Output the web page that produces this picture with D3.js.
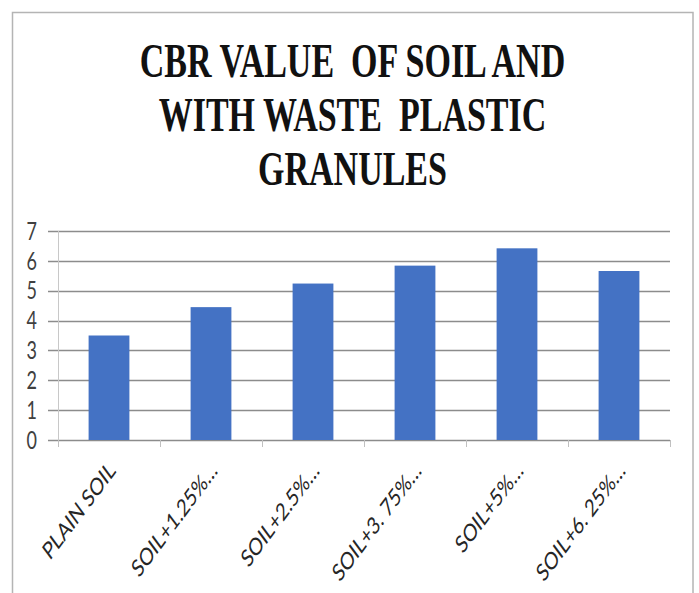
<!DOCTYPE html>
<html><head><meta charset="utf-8">
<script src="https://cdn.jsdelivr.net/npm/d3@7"></script>
<style>body{margin:0;background:#fff}svg{display:block}</style>
</head><body>
<script>
const titleLines = ["CBR VALUE  OF SOIL AND", "WITH WASTE  PLASTIC", "GRANULES"];
const categories = ["PLAIN SOIL", "SOIL+1.25%…", "SOIL+2.5%…", "SOIL+3. 75%…", "SOIL+5%…", "SOIL+6. 25%…"];
const cbrValues = [3.5, 4.45, 5.24, 5.84, 6.42, 5.66];
const yTicks = [0, 1, 2, 3, 4, 5, 6, 7];

const W = 699, H = 593;
const svg = d3.select("body").append("svg").attr("width", W).attr("height", H);
const stretch = 1.34;

// chart border
svg.append("rect").attr("x", 12.5).attr("y", 12.5).attr("width", 680.5).attr("height", 600)
  .attr("fill", "#fff").attr("stroke", "#b4b4b4").attr("stroke-width", 1.5);

// title
const tBase = [77, 131, 185];
titleLines.forEach((t, i) => {
  svg.append("text")
    .attr("transform", `translate(352.5,${tBase[i]}) scale(1,1.4)`)
    .attr("text-anchor", "middle")
    .attr("font-family", "'Liberation Serif', 'Times New Roman', serif")
    .attr("font-weight", "bold").attr("font-size", 34)
    .style("white-space", "pre")
    .attr("fill", "#111")
    .text(t);
});

const x = d3.scaleBand().domain(categories).range([58, 670]).paddingInner(0.6).paddingOuter(0.3);
const y = d3.scaleLinear().domain([0, 7]).range([440, 231]);

// gridlines
svg.append("g").selectAll("line").data(yTicks).join("line")
  .attr("x1", 48).attr("x2", 670)
  .attr("y1", d => Math.round(y(d)) + 0.5).attr("y2", d => Math.round(y(d)) + 0.5)
  .attr("stroke", "#8c8c8c").attr("stroke-width", 1.3);

// y axis line
svg.append("line").attr("x1", 58.5).attr("x2", 58.5).attr("y1", 231).attr("y2", 447)
  .attr("stroke", "#c8c8c8").attr("stroke-width", 1);

// x ticks
const band = (670 - 58) / categories.length;
svg.append("g").selectAll("line").data(d3.range(categories.length + 1)).join("line")
  .attr("x1", i => 58.5 + i * band).attr("x2", i => 58.5 + i * band)
  .attr("y1", 440).attr("y2", 447).attr("stroke", "#c0c0c0");

// y labels
svg.append("g").selectAll("text").data(yTicks).join("text")
  .attr("transform", d => `translate(37,${y(d)}) scale(1,${stretch})`)
  .attr("text-anchor", "end").attr("dy", "0.36em")
  .attr("font-family", "Lato, 'Open Sans', sans-serif").attr("font-size", 18)
  .attr("fill", "#404040")
  .text(d => d);

// bars
svg.append("g").selectAll("rect").data(cbrValues).join("rect")
  .attr("x", (d, i) => x(categories[i]))
  .attr("width", x.bandwidth())
  .attr("y", d => y(d))
  .attr("height", d => y(0) - y(d))
  .attr("fill", "#4472c4");

// x labels
svg.append("g").selectAll("text").data(categories).join("text")
  .attr("transform", d => `translate(${x(d) + x.bandwidth() / 2 + 3},466) scale(1,${stretch}) rotate(-45)`)
  .attr("text-anchor", "end").attr("dy", "0.35em")
  .attr("font-family", "Lato, 'Open Sans', sans-serif").attr("font-size", 18)
  .attr("fill", "#262626")
  .style("white-space", "pre")
  .text(d => d);
</script>
</body></html>
